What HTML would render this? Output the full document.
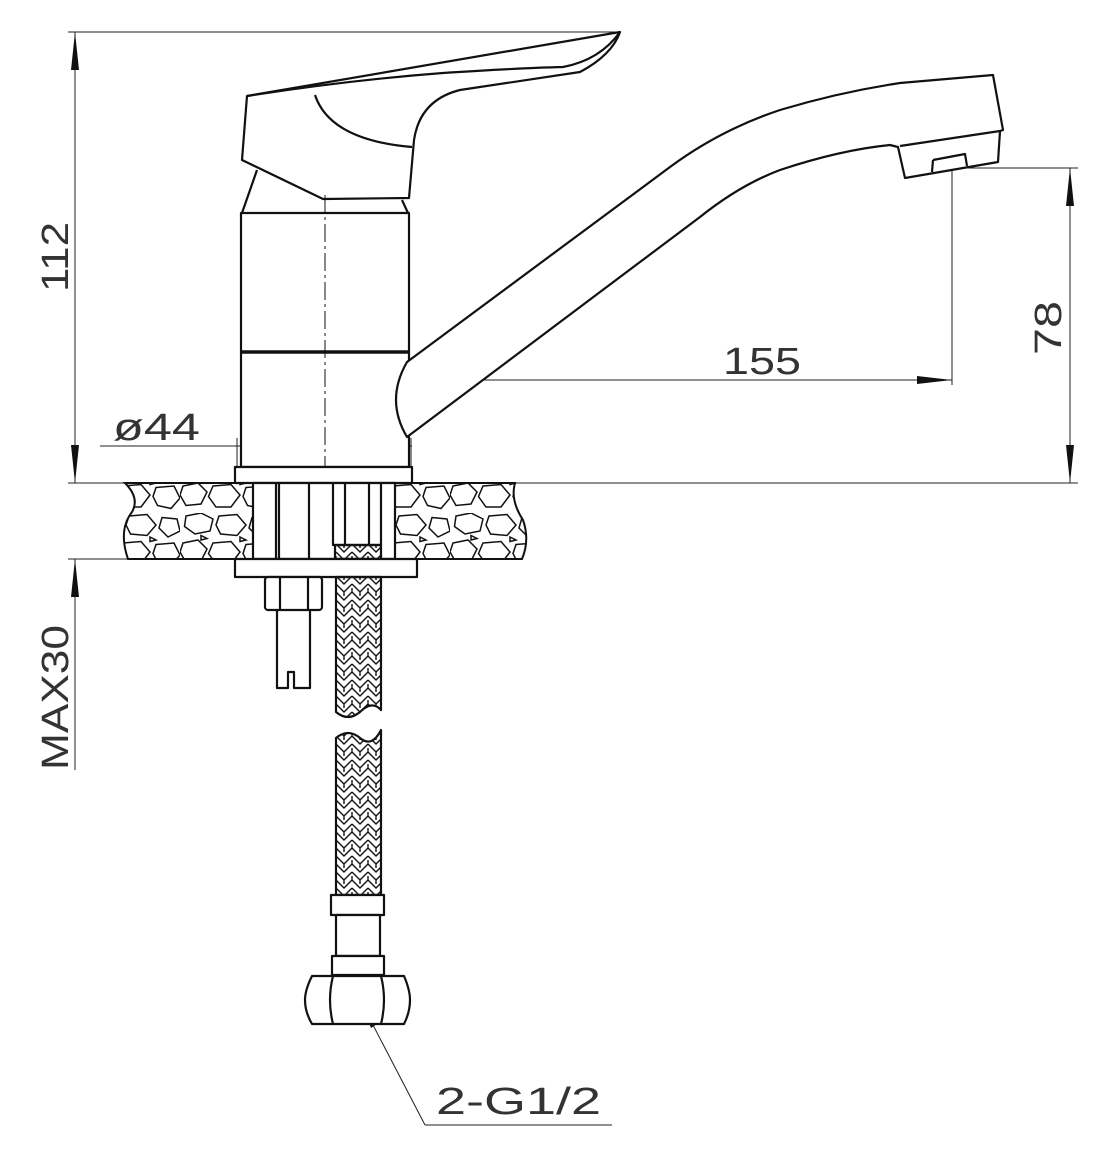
<!DOCTYPE html>
<html><head><meta charset="utf-8"><style>
html,body{margin:0;padding:0;background:#fff;}
svg{display:block;}
text{font-family:"Liberation Sans",sans-serif;}
</style></head><body>
<svg width="1101" height="1170" viewBox="0 0 1101 1170" xmlns="http://www.w3.org/2000/svg">
<defs>
<pattern id="braid" width="16" height="16" patternUnits="userSpaceOnUse">
<path d="M0 0 L8 8 L16 0 M0 8 L8 16 L16 8 M8 0 V4 M0 12 V16 M16 12 V16" stroke="#111" stroke-width="1.4" fill="none"/>
</pattern>
<pattern id="stone" width="90" height="57" patternUnits="userSpaceOnUse" patternTransform="scale(1)">
<rect width="90" height="57" fill="#fff"/>
<g transform="scale(1.5)">
<path d="M4 2 L14 0 L22 4 L20 12 L10 14 L3 9Z M26 2 L38 1 L44 8 L38 15 L27 14 L24 8Z M48 3 L58 4 L60 12 L52 16 L46 10Z M2 20 L12 18 L18 24 L14 32 L4 33 L0 26Z M22 20 L34 19 L40 26 L34 34 L24 34 L19 27Z M44 21 L56 20 L60 28 L54 35 L45 33 L42 27Z M14 15 L18 17 L14 18Z M40 16 L44 18 L40 19Z" stroke="#111" stroke-width="1" fill="none"/>
</g>
</pattern>
</defs>
<g stroke="#222" stroke-width="1" fill="none">
<line x1="68" y1="32" x2="620" y2="32"/>
<line x1="75" y1="32" x2="75" y2="483"/>
<line x1="68" y1="483" x2="1078" y2="483"/>
<line x1="68" y1="559" x2="130" y2="559"/>
<line x1="75" y1="559" x2="75" y2="770"/>
<line x1="955" y1="168" x2="1078" y2="168"/>
<line x1="1070" y1="168" x2="1070" y2="483"/>
<line x1="952" y1="168" x2="952" y2="385"/>
<line x1="323" y1="380" x2="952" y2="380"/>
<line x1="100" y1="446" x2="412" y2="446"/>
<line x1="237" y1="438" x2="237" y2="467"/>
<line x1="411" y1="438" x2="411" y2="467"/>
<line x1="952" y1="128" x2="952" y2="168" stroke-dasharray="10 3 3 3"/>
<line x1="360" y1="1000" x2="425" y2="1125"/>
<line x1="425" y1="1125" x2="612" y2="1125"/>
</g>
<g fill="#111">
<path d="M75 32 L71 70 L79 70Z"/><path d="M75 483 L71 445 L79 445Z"/>
<path d="M75 559 L71 597 L79 597Z"/>
<path d="M1070 168 L1066 206 L1074 206Z"/><path d="M1070 483 L1066 445 L1074 445Z"/>
<path d="M323 380 L358 376 L358 384Z"/><path d="M952 380 L917 376 L917 384Z"/>
<path d="M240 446 L267 442 L267 450Z"/><path d="M408 446 L381 442 L381 450Z"/>
<path d="M360 1000 L371 1028 L380 1022Z"/>
</g>
<path d="M125 483 L253 483 L253 559 L128 559 Q118 530 132 512 Q140 498 125 483Z" fill="url(#stone)" stroke="#111" stroke-width="2"/>
<path d="M395 483 L515 483 Q510 500 523 520 Q530 540 522 559 L395 559Z" fill="url(#stone)" stroke="#111" stroke-width="2"/>
<g stroke="#111" stroke-width="2.2" fill="none" stroke-linejoin="round">
<path d="M247 96 L620 32 Q612 55 580 72 L460 90 Q420 100 414 140 L409 198 L323 199 L242 160 Z" fill="#fff"/>
<path d="M247 96 Q350 80 443 73 Q520 68 563 67 Q600 60 620 32"/>
<path d="M315 95 Q330 140 412 147"/>
<path d="M257 170 L242 213 M402 200 L408 213"/>
<rect x="241" y="213" width="168" height="254" fill="#fff"/>
<line x1="241" y1="352" x2="409" y2="352" stroke-width="3.5"/>
<line x1="325" y1="195" x2="325" y2="480" stroke-width="1" stroke-dasharray="18 4 3 4"/>
<rect x="235" y="467" width="177" height="16" fill="#fff"/>
<path d="M407 362 L670 167 Q720 130 780 110 Q840 92 900 83 L993 75 L1003 130 L1000 131 L998 162 L905 178 L898 147 L890 145 Q840 150 780 170 Q740 185 700 217 L407 437 Q385 400 407 362Z" fill="#fff"/>
<path d="M900 146 L1000 131"/>
<path d="M933 160 L932 172 M933 160 L965 154 L967 166"/>
<rect x="253" y="483" width="142" height="76" fill="#fff"/>
<path d="M276 483 V559 M279 483 V559 M309 483 V559 M333 483 V545 H381 V483 M345 483 V545 M369 483 V545"/>
<rect x="335" y="545" width="46" height="14" fill="url(#braid)"/>
<rect x="235" y="559" width="182" height="18" fill="#fff"/>
<rect x="265" y="577" width="57" height="33" rx="3" fill="#fff"/>
<path d="M280 577 V610 M308 577 V610"/>
<path d="M277 610 V688 H288 V672 H294 V688 H310 V610"/>
<path d="M336 577 V712 Q348 722 360 712 Q372 700 381 710 V577Z" fill="url(#braid)"/>
<path d="M336 895 V738 Q348 728 360 738 Q372 748 381 730 V895Z" fill="url(#braid)"/>
<rect x="331" y="895" width="53" height="20" fill="#fff"/>
<rect x="336" y="915" width="44" height="41" fill="#fff"/>
<rect x="332" y="956" width="52" height="19" fill="#fff"/>
<path d="M312 976 H404 Q410 990 410 1000 Q410 1012 404 1024 H312 Q305 1012 305 1000 Q305 990 312 976Z" fill="#fff"/>
<path d="M333 976 Q327 1000 333 1024 M381 976 Q387 1000 381 1024"/>
</g>
<g font-size="38" fill="#333">
<text transform="translate(68,292) rotate(-90)" textLength="70" lengthAdjust="spacingAndGlyphs">112</text>
<text transform="translate(1061,355) rotate(-90)" textLength="54" lengthAdjust="spacingAndGlyphs">78</text>
<text transform="translate(68,770) rotate(-90)" textLength="145" lengthAdjust="spacingAndGlyphs">MAX30</text>
<text x="723" y="374" textLength="78" lengthAdjust="spacingAndGlyphs">155</text>
<text x="113" y="440" textLength="87" lengthAdjust="spacingAndGlyphs">ø44</text>
<text x="436" y="1114" textLength="165" lengthAdjust="spacingAndGlyphs">2-G1/2</text>
</g>
</svg>
</body></html>
